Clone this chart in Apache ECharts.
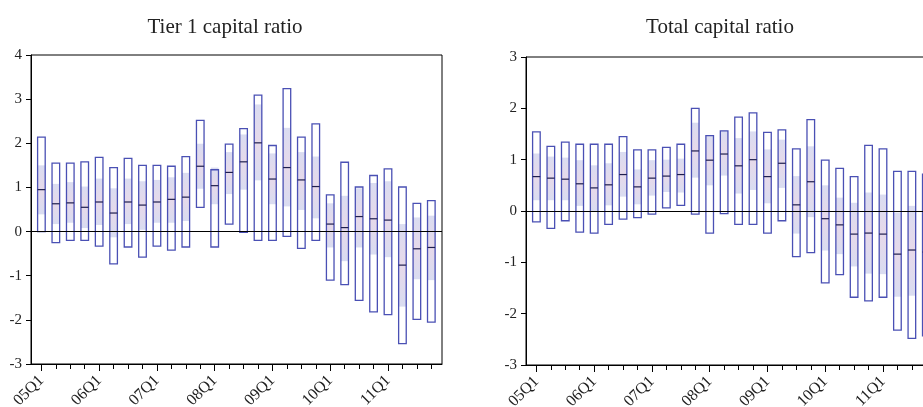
<!DOCTYPE html>
<html>
<head>
<meta charset="utf-8">
<script src="https://cdn.jsdelivr.net/npm/echarts@6/dist/echarts.min.js"></script>
<style>
  html, body { margin: 0; padding: 0; overflow: hidden; background: #fff; }
  #chart { width: 945px; height: 407px; }
</style>
</head>
<body>
<div id="chart"></div>
<script>
// quarters on the x axis
const quarters = [
  '05Q1','05Q2','05Q3','05Q4','06Q1','06Q2','06Q3','06Q4',
  '07Q1','07Q2','07Q3','07Q4','08Q1','08Q2','08Q3','08Q4',
  '09Q1','09Q2','09Q3','09Q4','10Q1','10Q2','10Q3','10Q4',
  '11Q1','11Q2','11Q3','11Q4'
]
const labelTicks = [0, 4, 8, 12, 16, 20, 24]

// Tier 1 capital ratio
const t1High   = [2.14,1.55,1.55,1.58,1.68,1.45,1.66,1.50,1.50,1.48,1.70,2.52,1.40,1.98,2.33,3.09,1.95,3.24,2.14,2.44,0.83,1.57,1.01,1.27,1.42,1.01,0.64,0.70]
const t1BandHi = [1.50,1.08,1.12,1.02,1.20,0.98,1.20,1.14,1.17,1.23,1.33,1.99,1.45,1.80,2.20,2.88,1.77,2.35,1.80,1.70,0.64,0.81,0.98,1.10,1.14,0.17,0.32,0.36]
const t1Median = [0.95,0.63,0.65,0.55,0.67,0.42,0.67,0.60,0.67,0.73,0.78,1.48,1.04,1.34,1.58,2.01,1.19,1.45,1.17,1.02,0.17,0.09,0.34,0.29,0.26,-0.76,-0.39,-0.36]
const t1BandLo = [0.39,0.17,0.20,0.08,0.15,-0.13,0.17,0.04,0.20,0.20,0.24,0.97,0.62,0.85,0.95,1.16,0.62,0.57,0.49,0.30,-0.36,-0.67,-0.36,-0.52,-0.58,-1.70,-1.08,-1.10]
const t1Low    = [0.00,-0.25,-0.20,-0.20,-0.33,-0.73,-0.35,-0.58,-0.33,-0.42,-0.35,0.55,-0.35,0.17,-0.02,-0.20,-0.20,-0.11,-0.38,-0.20,-1.10,-1.20,-1.56,-1.82,-1.88,-2.54,-1.99,-2.05]

// Total capital ratio
const tcHigh   = [1.54,1.26,1.34,1.30,1.30,1.30,1.45,1.19,1.19,1.24,1.30,2.00,1.47,1.56,1.83,1.91,1.53,1.58,1.21,1.78,0.99,0.83,0.67,1.28,1.21,0.77,0.77,0.72]
const tcBandHi = [1.12,1.06,1.04,0.99,0.89,0.93,1.15,0.81,0.99,1.00,1.02,1.72,1.47,1.56,1.42,1.55,1.20,1.39,0.68,1.26,0.50,0.26,0.16,0.36,0.32,-0.03,0.10,0.00]
const tcMedian = [0.67,0.64,0.62,0.53,0.45,0.51,0.71,0.47,0.64,0.68,0.71,1.17,0.99,1.11,0.88,1.00,0.67,0.93,0.12,0.57,-0.15,-0.27,-0.45,-0.43,-0.45,-0.84,-0.76,-0.80]
const tcBandLo = [0.21,0.21,0.21,0.10,-0.02,0.11,0.28,0.13,0.30,0.37,0.36,0.65,0.50,0.69,0.34,0.41,0.15,0.45,-0.44,-0.12,-0.77,-0.84,-1.08,-1.22,-1.23,-1.67,-1.65,-1.60]
const tcLow    = [-0.21,-0.34,-0.19,-0.41,-0.43,-0.26,-0.16,-0.13,-0.06,0.06,0.11,-0.06,-0.43,-0.05,-0.26,-0.26,-0.43,-0.19,-0.89,-0.81,-1.40,-1.24,-1.68,-1.75,-1.68,-2.32,-2.48,-2.43]

const font = 'Liberation Serif'
const txt = '#222'
const boxColor = '#4a50b4'

const rows = (hi, bh, md, bl, lo) => quarters.map((q, i) => [i, hi[i], bh[i], md[i], bl[i], lo[i]])

// one box: white body, shaded band, outline, median tick
function renderBox(params, api) {
  const x = api.value(0)
  const pHi = api.coord([x, api.value(1)])
  const pBh = api.coord([x, api.value(2)])
  const pMd = api.coord([x, api.value(3)])
  const pBl = api.coord([x, api.value(4)])
  const pLo = api.coord([x, api.value(5)])
  const w = 7.6
  const x0 = pHi[0] - w / 2
  return {
    type: 'group',
    children: [
      { type: 'rect', shape: { x: x0, y: pHi[1], width: w, height: pLo[1] - pHi[1] },
        style: { fill: '#fff', stroke: null } },
      { type: 'rect', shape: { x: x0, y: pBh[1], width: w, height: pBl[1] - pBh[1] },
        style: { stroke: null, fill: { type: 'linear', x: 0, y: 0, x2: 0, y2: 1, colorStops: [
          { offset: 0, color: '#dadcf1' }, { offset: 0.5, color: '#e6d9ea' }, { offset: 1, color: '#d9dcf1' }
        ] } } },
      { type: 'rect', shape: { x: x0, y: pHi[1], width: w, height: pLo[1] - pHi[1] },
        style: { fill: null, stroke: boxColor, lineWidth: 1.3 } },
      { type: 'line', shape: { x1: x0, y1: pMd[1], x2: x0 + w, y2: pMd[1] },
        style: { stroke: '#1e1e4e', lineWidth: 1.2 } }
    ]
  }
}

function xAxes(gridIndex) {
  return [
    {
      type: 'value', gridIndex, min: -0.72, max: 27.74, position: 'bottom',
      splitLine: { show: false },
      axisLine: { onZero: false, lineStyle: { color: '#000' } },
      axisTick: { customValues: labelTicks, length: 7, lineStyle: { color: '#000' } },
      axisLabel: {
        customValues: labelTicks, rotate: 45, margin: 14,
        fontFamily: font, fontSize: 16, color: txt,
        formatter: v => quarters[Math.round(v)]
      }
    },
    {
      type: 'value', gridIndex, min: -0.72, max: 27.74, position: 'bottom',
      splitLine: { show: false },
      axisLine: { show: false, onZero: false },
      axisTick: { customValues: quarters.map((q, i) => i), length: 5, lineStyle: { color: '#000' } },
      axisLabel: { show: false }
    }
  ]
}

function yAxis(gridIndex, max) {
  return {
    type: 'value', gridIndex, min: -3, max, interval: 1, position: 'left',
    splitLine: { show: false },
    axisLine: { show: true, onZero: false, lineStyle: { color: '#000' } },
    axisTick: { show: true, length: 5, lineStyle: { color: '#000' } },
    axisLabel: { margin: 9, fontFamily: font, fontSize: 15, color: txt }
  }
}

function boxSeries(idx, data) {
  return {
    type: 'custom',
    xAxisIndex: idx * 2,
    yAxisIndex: idx,
    renderItem: renderBox,
    encode: { x: 0, y: [1, 2, 3, 4, 5] },
    itemStyle: { color: boxColor },
    data,
    z: 3,
    markLine: {
      silent: true, symbol: 'none', animation: false,
      label: { show: false },
      lineStyle: { color: '#000', width: 1, type: 'solid' },
      data: [{ yAxis: 0 }],
      z: 4
    }
  }
}

const chart = echarts.init(document.getElementById('chart'))
chart.setOption({
  animation: false,
  title: [
    { text: 'Tier 1 capital ratio', left: 220, top: 12, textAlign: 'center',
      textStyle: { fontFamily: font, fontSize: 21, fontWeight: 'normal', color: txt } },
    { text: 'Total capital ratio', left: 715, top: 12, textAlign: 'center',
      textStyle: { fontFamily: font, fontSize: 21, fontWeight: 'normal', color: txt } }
  ],
  grid: [
    { left: 31, top: 55, width: 411, height: 309, show: true, borderColor: '#000', borderWidth: 1,
      containLabel: false, outerBoundsMode: 'none' },
    { left: 526, top: 57, width: 411, height: 308, show: true, borderColor: '#000', borderWidth: 1,
      containLabel: false, outerBoundsMode: 'none' }
  ],
  xAxis: [...xAxes(0), ...xAxes(1)],
  yAxis: [yAxis(0, 4), yAxis(1, 3)],
  series: [
    boxSeries(0, rows(t1High, t1BandHi, t1Median, t1BandLo, t1Low)),
    boxSeries(1, rows(tcHigh, tcBandHi, tcMedian, tcBandLo, tcLow))
  ]
})
</script>
</body>
</html>
